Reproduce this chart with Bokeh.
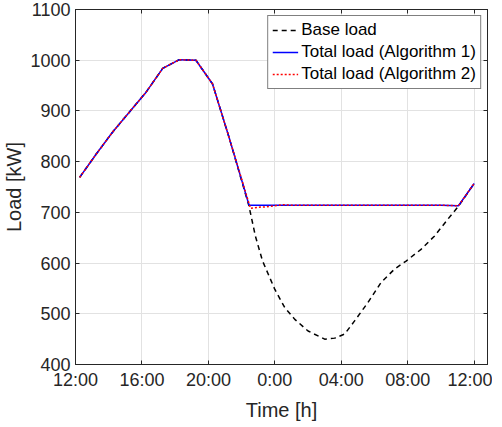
from bokeh.plotting import figure
from bokeh.models import (Range1d, LinearAxis, FixedTicker, Legend, LegendItem,
                          CustomLabelingPolicy)
from bokeh.embed import file_html
from bokeh.resources import INLINE

# ---- data (hours after 12:00, load in kW) ----
base_time = [0.25, 1.25, 2.25, 3.25, 4.25, 5.25, 6.25, 7.25, 8.25, 9.25, 10.43,
             10.83, 11.25, 12.0, 12.6, 13.2, 14.0, 15.0, 15.6, 16.2, 16.8, 17.6,
             18.4, 19.2, 19.9, 20.8, 21.6, 22.4, 23.05, 24.0]
base_load = [769, 815, 859, 898, 937, 984, 1001, 1000, 953, 847, 714,
             653, 605, 548, 512, 489, 466, 450, 452, 460, 486, 522,
             562, 588, 604, 627, 653, 686, 712, 757]

alg1_time = [0.25, 1.25, 2.25, 3.25, 4.25, 5.25, 6.25, 7.25, 8.25, 9.25, 10.45,
             12.0, 14.0, 16.0, 18.0, 20.0, 22.0, 23.05, 24.0]
alg1_load = [769, 815, 859, 898, 937, 984, 1001, 1000, 953, 847, 714,
             714, 714, 714, 714, 714, 714, 713, 757]

alg2_time = [0.25, 1.25, 2.25, 3.25, 4.25, 5.25, 6.25, 7.25, 8.25, 9.25, 10.53,
             11.0, 11.5, 12.0, 12.5, 13.0, 14.0, 16.0, 18.0, 20.0, 22.0, 23.05, 24.0]
alg2_load = [769, 815, 859, 898, 937, 984, 1001, 1000, 953, 847, 708,
             710, 711, 713, 715, 714, 714, 714, 714, 714, 714, 713, 757]

x_ticks = [0, 4, 8, 12, 16, 20, 24]
x_tick_labels = ["12:00", "16:00", "20:00", "0:00", "04:00", "08:00", "12:00"]
y_ticks = [400, 500, 600, 700, 800, 900, 1000, 1100]

FONT = "Liberation Sans"
AX = "#262626"

p = figure(frame_width=412, frame_height=355, x_range=Range1d(0, 24.8),
           y_range=Range1d(400, 1100),
           output_backend="svg", toolbar_location=None,
           min_border_left=72, min_border_right=0, min_border_top=9, min_border_bottom=50)
p.background_fill_color = "white"
p.border_fill_color = "white"
p.outline_line_color = AX
p.outline_line_width = 1

xt = FixedTicker(ticks=x_ticks)
yt = FixedTicker(ticks=y_ticks)

for ax in (p.xaxis[0], p.yaxis[0]):
    ax.axis_line_color = AX
    ax.major_tick_line_color = AX
    ax.major_tick_in = 4
    ax.major_tick_out = 0
    ax.minor_tick_line_color = None
    ax.major_label_text_font = FONT
    ax.major_label_text_font_size = "18px"
    ax.major_label_text_color = AX
    ax.axis_label_text_font = FONT
    ax.axis_label_text_font_size = "20px"
    ax.axis_label_text_font_style = "normal"
    ax.axis_label_text_color = AX

p.xaxis[0].ticker = xt
p.xaxis[0].major_label_overrides = {t: l for t, l in zip(x_ticks, x_tick_labels)}
p.xaxis[0].axis_label = "Time [h]"
p.xaxis[0].major_label_standoff = 5
p.xaxis[0].axis_label_standoff = 6
p.yaxis[0].ticker = yt
p.yaxis[0].axis_label = "Load [kW]"
p.yaxis[0].major_label_standoff = 5
p.yaxis[0].axis_label_standoff = 2

# box-style ticks on top and right (no labels drawn)
for loc, tk in (("above", xt), ("right", yt)):
    a = LinearAxis(ticker=tk)
    a.axis_line_color = AX
    a.major_tick_line_color = AX
    a.major_tick_in = 4
    a.major_tick_out = 0
    a.minor_tick_line_color = None
    a.major_label_text_font_size = "1px"
    a.major_label_standoff = 0
    a.major_label_policy = CustomLabelingPolicy(code="")
    p.add_layout(a, loc)

p.xgrid.ticker = xt
p.ygrid.ticker = yt
p.xgrid.grid_line_color = "#e2e2e2"
p.ygrid.grid_line_color = "#e2e2e2"

r_base = p.line(base_time, base_load, line_color="black", line_width=1.5, line_dash="5 4")
r_a1 = p.line(alg1_time, alg1_load, line_color="#0000ff", line_width=1.5)
r_a2 = p.line(alg2_time, alg2_load, line_color="#ff0000", line_width=1.5, line_dash="2 2")

legend = Legend(items=[LegendItem(label="Base load", renderers=[r_base]),
                       LegendItem(label="Total load (Algorithm 1)", renderers=[r_a1]),
                       LegendItem(label="Total load (Algorithm 2)", renderers=[r_a2])],
                location="top_right")
legend.border_line_color = "black"
legend.border_line_width = 1
legend.background_fill_alpha = 1
legend.label_text_font = FONT
legend.label_text_font_size = "17px"
legend.label_text_color = "black"
legend.glyph_width = 26
legend.glyph_height = 20
legend.label_height = 20
legend.spacing = 2
legend.padding = 4
legend.margin = 6
legend.label_standoff = 3
p.add_layout(legend)

open("out.html", "w").write(file_html(p, INLINE))
